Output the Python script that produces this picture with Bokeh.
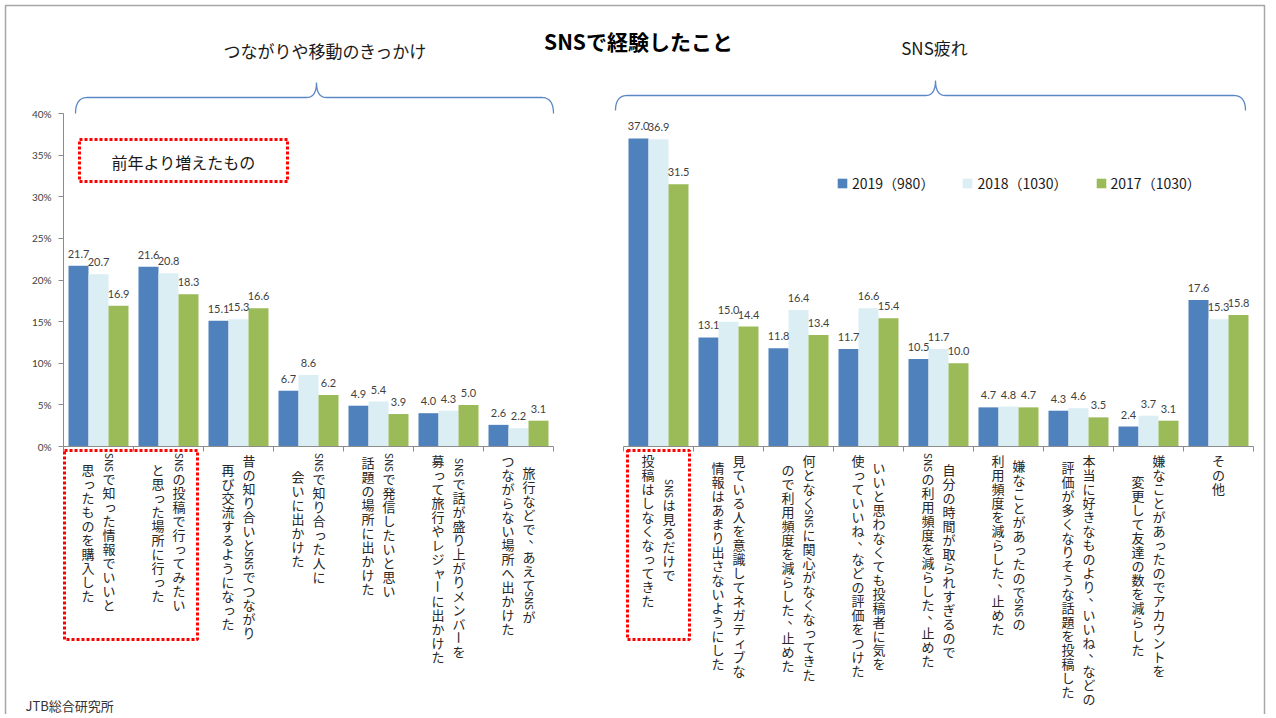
import math
from bokeh.plotting import figure
from bokeh.models import (Range1d, LinearAxis, FixedTicker, PrintfTickFormatter,
                          ColumnDataSource, Legend, LegendItem, BoxAnnotation)
from bokeh.core.properties import value
from bokeh.embed import file_html
from bokeh.resources import INLINE

# ---------------- data ----------------
title = "SNSで経験したこと"
group_titles = ["つながりや移動のきっかけ", "SNS疲れ"]
note_text = "前年より増えたもの"
source_text = "JTB総合研究所"
series_names = ["2019（980）", "2018（1030）", "2017（1030）"]

cats_g1 = [
    ["SNSで知った情報でいいと", "思ったものを購入した"],
    ["SNSの投稿で行ってみたい", "と思った場所に行った"],
    ["昔の知り合いとSNSでつながり", "再び交流するようになった"],
    ["SNSで知り合った人に", "会いに出かけた"],
    ["SNSで発信したいと思い", "話題の場所に出かけた"],
    ["SNSで話が盛り上がりメンバーを", "募って旅行やレジャーに出かけた"],
    ["旅行などで、あえてSNSが", "つながらない場所へ出かけた"],
]
cats_g2 = [
    ["SNSは見るだけで", "投稿はしなくなってきた"],
    ["見ている人を意識してネガティブな", "情報はあまり出さないようにした"],
    ["何となくSNSに関心がなくなってきた", "ので利用頻度を減らした、止めた"],
    ["いいと思わなくても投稿者に気を", "使っていいね、などの評価をつけた"],
    ["自分の時間が取られすぎるので", "SNSの利用頻度を減らした、止めた"],
    ["嫌なことがあったのでSNSの", "利用頻度を減らした、止めた"],
    ["本当に好きなものより、いいね、などの", "評価が多くなりそうな話題を投稿した"],
    ["嫌なことがあったのでアカウントを", "変更して友達の数を減らした"],
    ["その他"],
]

v2019_g1 = [21.7, 21.6, 15.1, 6.7, 4.9, 4.0, 2.6]
v2018_g1 = [20.7, 20.8, 15.3, 8.6, 5.4, 4.3, 2.2]
v2017_g1 = [16.9, 18.3, 16.6, 6.2, 3.9, 5.0, 3.1]
v2019_g2 = [37.0, 13.1, 11.8, 11.7, 10.5, 4.7, 4.3, 2.4, 17.6]
v2018_g2 = [36.9, 15.0, 16.4, 16.6, 11.7, 4.8, 4.6, 3.7, 15.3]
v2017_g2 = [31.5, 14.4, 13.4, 15.4, 10.0, 4.7, 3.5, 3.1, 15.8]

y_ticks = [0, 5, 10, 15, 20, 25, 30, 35, 40]
y_max = 40

# ---------------- layout ----------------
W, H = 1272, 714
MARGIN = 0      # bokeh's page template has no body margin
PX0 = 63.0      # page x of category axis start
SLOT = 70.0     # px per category slot
PY0 = 446.0     # page y of 0%
PPU = 333.0 / 40.0  # px per percent

def X(px):
    return (px - PX0) / SLOT

def Y(py):
    return (PY0 - py) / PPU

colors = ["#4F81BD", "#DBEEF4", "#9BBB59"]
JP = "Noto Sans CJK JP"
NUM = "Lato"

p = figure(width=W, height=H, output_backend="svg", toolbar_location=None,
           x_range=Range1d(X(MARGIN), X(MARGIN + W)),
           y_range=Range1d(Y(MARGIN + H), Y(MARGIN)),
           x_axis_type=None, y_axis_type=None, min_border=0)
p.outline_line_color = None
p.background_fill_color = "white"
p.border_fill_color = "white"

n1, n2 = len(cats_g1), len(cats_g2)
pos_g1 = [i + 0.5 for i in range(n1)]
pos_g2 = [n1 + 1 + j + 0.5 for j in range(n2)]
positions = pos_g1 + pos_g2
BW = 20.0 / SLOT
offsets = [-BW, 0.0, BW]

series_vals = [v2019_g1 + v2019_g2, v2018_g1 + v2018_g2, v2017_g1 + v2017_g2]

renderers = []
for vals, col, off in zip(series_vals, colors, offsets):
    xs = [c + off for c in positions]
    r = p.vbar(x=xs, top=vals, bottom=0, width=BW, fill_color=col, line_color=None)
    renderers.append(r)

# data labels
LABEL_PAD = 8.0 / PPU
for vals, off in zip(series_vals, offsets):
    xs = [c + off for c in positions]
    p.text(x=xs, y=[v + LABEL_PAD for v in vals], text=[f"{v:.1f}" for v in vals],
           text_align="center", text_baseline="bottom", text_font_size="11px",
           text_font=value(NUM), text_color="#3F3F3F")

# axes
axis_col = "#8C8C8C"
yaxis = LinearAxis(fixed_location=0, ticker=FixedTicker(ticks=y_ticks),
                   formatter=PrintfTickFormatter(format="%d%%"),
                   axis_line_color=None, major_tick_out=5, major_tick_in=0,
                   minor_tick_out=0, minor_tick_in=0, major_tick_line_color=axis_col,
                   major_label_text_font_size="10px", major_label_text_color="#404040",
                   major_label_text_font=NUM, major_label_standoff=7)
p.add_layout(yaxis, "left")
xticks = list(range(0, n1 + 1)) + list(range(n1 + 1, n1 + 1 + n2 + 1))
xaxis = LinearAxis(fixed_location=0, ticker=FixedTicker(ticks=xticks),
                   axis_line_color=None, major_tick_out=5, major_tick_in=0,
                   minor_tick_out=0, minor_tick_in=0, major_tick_line_color=axis_col,
                   major_label_text_color=None, major_label_text_font_size="1px")
p.add_layout(xaxis, "below")
p.segment(x0=[0, n1 + 1], y0=[0, 0], x1=[n1, n1 + 1 + n2], y1=[0, 0],
          line_color=axis_col, line_width=1)
p.segment(x0=[0], y0=[0], x1=[0], y1=[y_max], line_color=axis_col, line_width=1)

# vertical category labels (tategaki)
PITCH = 14.0
LATIN_PX = 6.0
COL_PX = 21.0
TOP_PX = 453.0
SMALL = set("っゃゅょぁぃぅぇぉャュョッァィゥェォ")

def tokens(line):
    out = []
    i = 0
    while i < len(line):
        ch = line[i]
        if ch.isascii() and ch.isalpha():
            j = i
            while j < len(line) and line[j].isascii() and line[j].isalpha():
                j += 1
            out.append((line[i:j], "latin", LATIN_PX * (j - i)))
            i = j
        else:
            if ch == "ー":
                kind = "rot"
            elif ch in "、。":
                kind = "punct"
            elif ch in SMALL:
                kind = "small"
            else:
                kind = "cjk"
            out.append((ch, kind, PITCH))
            i += 1
    return out

up = dict(x=[], y=[], t=[])
rot = dict(x=[], y=[], t=[])
lat = dict(x=[], y=[], t=[])
for c, lines in zip(positions, cats_g1 + cats_g2):
    n = len(lines)
    toks = [tokens(l) for l in lines]
    lens = [sum(t[2] for t in tk) for tk in toks]
    maxL = max(lens)
    for k, (tk, L) in enumerate(zip(toks, lens)):
        dx = ((n - 1) / 2.0 - k) * COL_PX
        cum = TOP_PX + (maxL - L) / 2.0
        for txt, kind, h in tk:
            cy = cum + h / 2.0
            ex, ey = 0.0, 0.0
            if kind == "punct":
                ex, ey = 6.0, -6.0
            elif kind == "small":
                ex, ey = 1.5, -1.5
            xx = c + (dx + ex) / SLOT
            yy = Y(cy + ey)
            d = lat if kind == "latin" else (rot if kind == "rot" else up)
            d["x"].append(xx)
            d["y"].append(yy)
            d["t"].append(txt)
            cum += h

lab_col = "#262626"
p.text(x="x", y="y", text="t", source=ColumnDataSource(up), text_align="center",
       text_baseline="middle", text_font=value(JP), text_font_size="13px", text_color=lab_col)
p.text(x="x", y="y", text="t", source=ColumnDataSource(rot), text_align="center",
       text_baseline="middle", text_font=value(JP), text_font_size="13px", text_color=lab_col,
       angle=-math.pi / 2)
p.text(x="x", y="y", text="t", source=ColumnDataSource(lat), text_align="center",
       text_baseline="middle", text_font=value(JP), text_font_size="10px", text_color=lab_col,
       angle=-math.pi / 2)

# titles
p.text(x=[X(638)], y=[Y(40)], text=[title], text_align="center", text_baseline="middle",
       text_font=value(JP), text_font_size="21px", text_font_style="bold", text_color="#000000")
p.text(x=[X(325), X(934)], y=[Y(50), Y(47)], text=group_titles, text_align="center",
       text_baseline="middle", text_font=value(JP), text_font_size="17px", text_color="#1a1a1a")
p.text(x=[X(183)], y=[Y(161)], text=[note_text], text_align="center", text_baseline="middle",
       text_font=value(JP), text_font_size="16px", text_color="#1a1a1a")
p.text(x=[X(25)], y=[Y(705)], text=[source_text], text_align="left", text_baseline="middle",
       text_font=value(JP), text_font_size="13px", text_color="#333333")

# red dotted boxes
for (l, r_, t, b) in [(79, 287, 139, 181), (64, 197, 450, 639), (627, 689, 450, 639)]:
    p.add_layout(BoxAnnotation(left=X(l), right=X(r_), top=Y(t), bottom=Y(b),
                               fill_color=None, fill_alpha=0, line_color="#FF0000",
                               line_alpha=1.0, line_width=3, line_dash="3 2"))

# braces
def quad(p0, p1, p2, n=12):
    pts = []
    for i in range(n + 1):
        t = i / n
        x = (1 - t) ** 2 * p0[0] + 2 * (1 - t) * t * p1[0] + t * t * p2[0]
        y = (1 - t) ** 2 * p0[1] + 2 * (1 - t) * t * p1[1] + t * t * p2[1]
        pts.append((x, y))
    return pts

def brace(x0, x1, xm, yl, ye, yp, r=12, rp=10):
    pts = []
    pts += quad((x0, ye), (x0, yl), (x0 + r, yl))
    pts += quad((xm - rp, yl), (xm, yl), (xm, yp))
    pts += quad((xm, yp), (xm, yl), (xm + rp, yl))
    pts += quad((x1 - r, yl), (x1, yl), (x1, ye))
    return [X(a) for a, _ in pts], [Y(b) for _, b in pts]

for args in [(75, 553, 316, 97, 113, 82), (615, 1245, 935, 95, 110, 80)]:
    bx, by = brace(*args)
    p.line(bx, by, line_color="#5B87C5", line_width=1.3)

# frame border
p.line([X(5), X(5), X(1264), X(1264)], [Y(720), Y(5), Y(5), Y(720)],
       line_color="#A6A6A6", line_width=1.5)

# legend (location measured from frame bottom-left)
leg_top, leg_h = 177, 16
legend = Legend(items=[LegendItem(label=s, renderers=[r]) for s, r in zip(series_names, renderers)],
                orientation="horizontal", location=(836, H - (leg_top + leg_h)),
                glyph_width=12, glyph_height=12,
                label_text_font_size="14px", label_text_font=JP, label_text_color="#1a1a1a",
                label_standoff=4, spacing=27, padding=0, margin=0, label_height=16,
                border_line_color=None, background_fill_alpha=0)
p.add_layout(legend)

open("out.html", "w").write(file_html(p, INLINE))
